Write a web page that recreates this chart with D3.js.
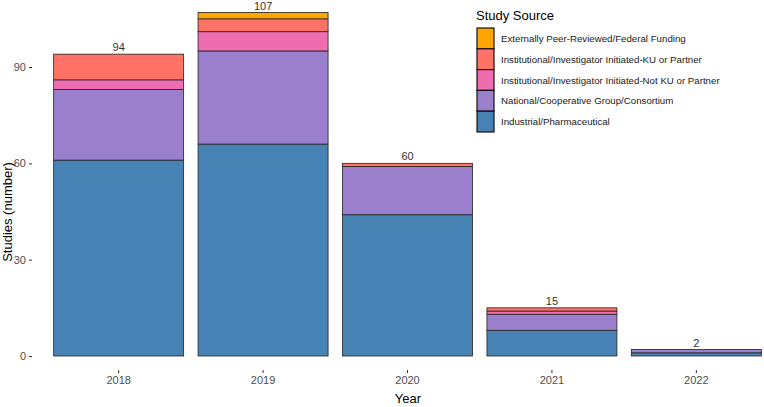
<!DOCTYPE html>
<meta charset="utf-8">
<script src="https://d3js.org/d3.v7.min.js"></script>
<style>
  body { margin: 0; background: #fff; }
  text { font-family: "Liberation Sans", Arial, sans-serif; }
</style>
<div id="chart"></div>
<script>
  // data
  var years = ["2018", "2019", "2020", "2021", "2022"];
  var sources = [
    "Industrial/Pharmaceutical",
    "National/Cooperative Group/Consortium",
    "Institutional/Investigator Initiated-Not KU or Partner",
    "Institutional/Investigator Initiated-KU or Partner",
    "Externally Peer-Reviewed/Federal Funding"
  ];
  var industrial = [61, 66, 44, 8, 1];
  var national = [22, 29, 15, 5, 1];
  var notKU = [3, 6, 0, 1, 0];
  var KU = [8, 4, 1, 1, 0];
  var external = [0, 2, 0, 0, 0];
  var colors = ["#4682B4", "#9A80CC", "#EF6CB0", "#FF7367", "#FFA500"];
  var yTicks = [0, 30, 60, 90];

  var width = 764, height = 407;

  var rows = years.map(function (y, i) {
    var r = { year: y };
    r[sources[0]] = industrial[i];
    r[sources[1]] = national[i];
    r[sources[2]] = notKU[i];
    r[sources[3]] = KU[i];
    r[sources[4]] = external[i];
    r.total = industrial[i] + national[i] + notKU[i] + KU[i] + external[i];
    return r;
  });

  var svg = d3.select("#chart")
    .append("svg")
    .attr("width", width)
    .attr("height", height);

  var x = d3.scaleBand()
    .domain(years)
    .range([32, 783])
    .paddingInner(0.1)
    .paddingOuter(0.15);

  var y = d3.scaleLinear()
    .domain([0, 90])
    .range([356, 67]);

  var color = d3.scaleOrdinal()
    .domain(sources)
    .range(colors);

  var stacked = d3.stack().keys(sources)(rows);

  // bars
  svg.append("g")
    .selectAll("g")
    .data(stacked)
    .enter()
    .append("g")
    .attr("fill", function (d) { return color(d.key); })
    .selectAll("rect")
    .data(function (d) { return d; })
    .enter()
    .filter(function (d) { return d[1] > d[0]; })
    .append("rect")
    .attr("x", function (d) { return x(d.data.year); })
    .attr("y", function (d) { return y(d[1]); })
    .attr("width", x.bandwidth())
    .attr("height", function (d) { return y(d[0]) - y(d[1]); })
    .attr("stroke", "#222")
    .attr("stroke-width", 0.8);

  // totals above bars
  svg.append("g")
    .selectAll("text")
    .data(rows)
    .enter()
    .append("text")
    .attr("x", function (d) { return x(d.year) + x.bandwidth() / 2; })
    .attr("y", function (d) { return Math.max(y(d.total) - 3, 10); })
    .attr("text-anchor", "middle")
    .style("font-size", "11px")
    .style("fill", "#333")
    .text(function (d) { return d.total; });

  // x axis
  var xAxis = svg.append("g")
    .attr("transform", "translate(0,370)")
    .call(d3.axisBottom(x).tickSize(3).tickPadding(3));
  xAxis.select(".domain").remove();
  xAxis.selectAll("line").attr("stroke", "#333");
  xAxis.selectAll("text")
    .style("font-size", "11px")
    .style("fill", "#4d4d4d")
    .style("font-family", "Liberation Sans, Arial, sans-serif");

  // y axis
  var yAxis = svg.append("g")
    .attr("transform", "translate(32,0)")
    .call(d3.axisLeft(y).tickValues(yTicks).tickSize(3).tickPadding(3));
  yAxis.select(".domain").remove();
  yAxis.selectAll("line").attr("stroke", "#333");
  yAxis.selectAll("text")
    .style("font-size", "11px")
    .style("fill", "#4d4d4d")
    .style("font-family", "Liberation Sans, Arial, sans-serif");

  // axis titles
  svg.append("text")
    .attr("x", 408)
    .attr("y", 403)
    .attr("text-anchor", "middle")
    .style("font-size", "13px")
    .text("Year");

  svg.append("text")
    .attr("transform", "translate(12,212) rotate(-90)")
    .attr("text-anchor", "middle")
    .style("font-size", "13px")
    .text("Studies (number)");

  // legend
  var legend = svg.append("g").attr("transform", "translate(476,0)");
  legend.append("text")
    .attr("x", 0)
    .attr("y", 20)
    .style("font-size", "13px")
    .text("Study Source");

  var legendKeys = sources.slice().reverse();
  var item = legend.selectAll(".item")
    .data(legendKeys)
    .enter()
    .append("g")
    .attr("class", "item")
    .attr("transform", function (d, i) { return "translate(0," + (28 + i * 20.8) + ")"; });
  item.append("rect")
    .attr("x", 1)
    .attr("y", 0)
    .attr("width", 17)
    .attr("height", 20.8)
    .attr("fill", function (d) { return color(d); })
    .attr("stroke", "#111")
    .attr("stroke-width", 1.2);
  item.append("text")
    .attr("x", 25)
    .attr("y", 14)
    .style("font-size", "9.7px")
    .style("fill", "#1a1a1a")
    .text(function (d) { return d; });
</script>
